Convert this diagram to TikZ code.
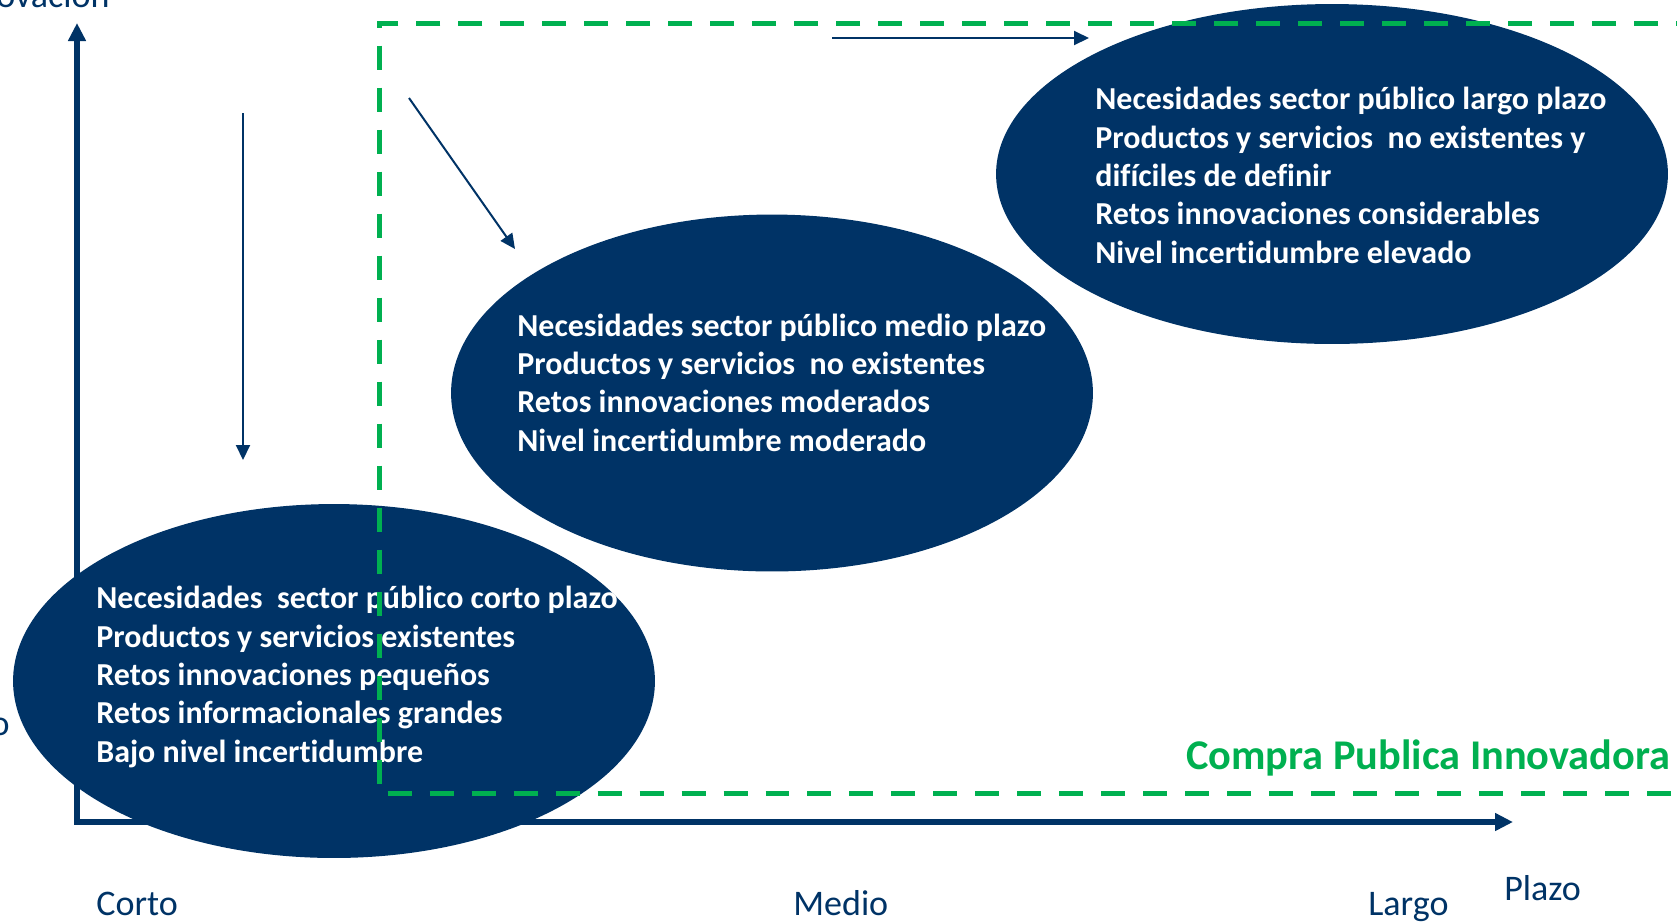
\documentclass[tikz,border=0pt]{standalone}
\usepackage{fontspec}
\setmainfont{Carlito}[Ligatures=CommonOff]
\usetikzlibrary{shapes.geometric,arrows.meta}
\definecolor{navy}{RGB}{0,51,102}
\definecolor{cpigreen}{RGB}{0,176,80}
\tikzset{
  blob/.style={shape=ellipse,fill=navy,inner sep=0pt},
  lines/.style={anchor=base west,align=left,text=white,inner sep=0pt,font=\bfseries\fontsize{18.2}{21.8}\selectfont},
  axislabel/.style={anchor=base west,text=navy,inner sep=0pt,font=\fontsize{20.5}{24}\selectfont},
  axis/.style={draw=navy,line width=0.12cm,{Triangle[length=0.36cm,width=0.34cm]}-{Triangle[length=0.36cm,width=0.34cm]}},
  hint/.style={draw=navy,line width=0.04cm,-{Triangle[length=0.3cm,width=0.28cm]}}
}
\begin{document}
\begin{tikzpicture}[x=0.02cm,y=-0.02cm]
\useasboundingbox (0,0) rectangle (1677,921);
\clip (0,0) rectangle (1677,921);
\coordinate (o) at (77,822);
\coordinate (ytop) at (77,23);
\coordinate (xend) at (1513,822);
\draw[axis] (ytop) -- (o) -- (xend);

\node[blob,minimum width=12.84cm,minimum height=7.08cm] (0) at (334,681) {};
\node[blob,minimum width=12.84cm,minimum height=7.14cm] (1) at (772,393) {};
\node[blob,minimum width=13.44cm,minimum height=6.8cm] (2) at (1332,174) {};

\node[lines] (0t) at (96,762) {Necesidades\ \ sector público corto plazo\\Productos y servicios existentes\\Retos innovaciones pequeños\\Retos informacionales grandes\\Bajo nivel incertidumbre};
\node[lines] (1t) at (517,451) {Necesidades sector público medio plazo\\Productos y servicios\ \ no existentes\\Retos innovaciones moderados\\Nivel incertidumbre moderado};
\node[lines] (2t) at (1095,263) {Necesidades sector público largo plazo\\Productos y servicios\ \ no existentes y\\difíciles de definir\\Retos innovaciones considerables\\Nivel incertidumbre elevado};

\draw[cpigreen,line width=0.1cm,dash pattern=on 0.48cm off 0.36cm] (1700,23) -- (379,23) -- (379,793) -- (1700,793);
\node[anchor=base west,inner sep=0pt,text=cpigreen,font=\bfseries\fontsize{24.1}{29}\selectfont] (cpi) at (1186,769) {Compra Publica Innovadora};

\coordinate (a0) at (243,113);
\coordinate (a1) at (243,460);
\coordinate (b0) at (409,98);
\coordinate (b1) at (515,249);
\coordinate (c0) at (832,38);
\coordinate (c1) at (1089,38);
\draw[hint] (a0) -- (a1);
\draw[hint] (b0) -- (b1);
\draw[hint] (c0) -- (c1);

\node[axislabel] (corto) at (96,915) {Corto};
\node[axislabel] (medio) at (793,915) {Medio};
\node[axislabel] (largo) at (1368,915) {Largo};
\node[axislabel] (plazo) at (1504,900) {Plazo};
\node[axislabel,anchor=base east] (inno) at (110,7) {ovación};
\node[axislabel,anchor=base east] (bajo) at (10,735) {o};
\end{tikzpicture}
\end{document}
